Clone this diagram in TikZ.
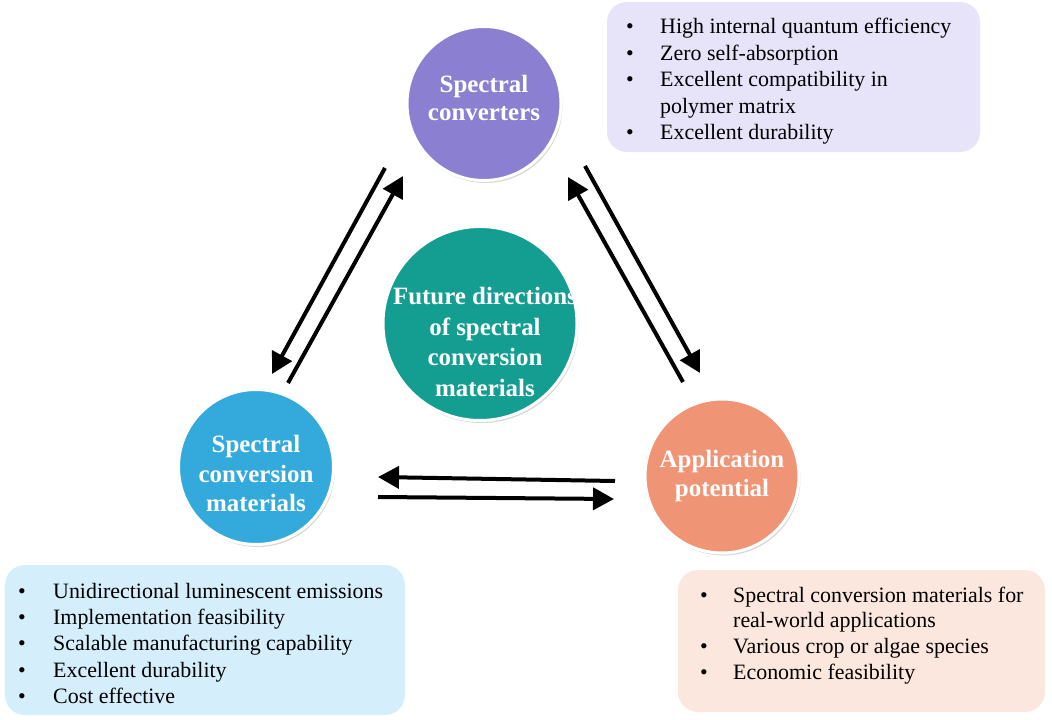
\documentclass[tikz,border=0pt]{standalone}
\usepackage{fontspec}
\setmainfont{Liberation Serif}
\newfontfamily\bodyfont{Liberation Serif}
\usetikzlibrary{arrows.meta,shadows}
\definecolor{cpurple}{RGB}{138,127,208}
\definecolor{cteal}{RGB}{20,158,146}
\definecolor{cblue}{RGB}{52,170,220}
\definecolor{corange}{RGB}{240,148,118}
\definecolor{blav}{RGB}{231,227,248}
\definecolor{bblue}{RGB}{212,238,251}
\definecolor{bpeach}{RGB}{252,231,222}
\begin{document}
\begin{tikzpicture}[x=1bp,y=-1bp,
  circ/.style={circle, inner sep=0pt, draw=white, line width=3bp,
    drop shadow={shadow xshift=1.5bp, shadow yshift=-2.5bp, opacity=0.35, fill=black!45}},
  ctext/.style={text=white, align=center, inner sep=0pt,
    font=\bodyfont\bfseries\fontsize{25}{30}\selectfont},
  infobox/.style={rounded corners=20bp, draw=none, inner sep=0pt},
  btext/.style={anchor=base west, inner sep=0pt, font=\bodyfont\fontsize{22}{26.5}\selectfont},
  arr/.style={line width=4bp, -{Triangle[length=21bp,width=22bp]}}
]
\useasboundingbox (0,0) rectangle (1052,720);

% info boxes
\node[infobox, fill=blav, minimum width=373bp, minimum height=150bp] (boxtr) at (793.5,77) {};
\node[infobox, fill=bblue, minimum width=400bp, minimum height=150bp] (boxbl) at (205,640) {};
\node[infobox, fill=bpeach, minimum width=367bp, minimum height=142bp] (boxbr) at (861.5,641) {};

\node[btext] (ttr) at (626,34) {\begin{tabular}[t]{@{}p{34bp}@{}l@{}}
\textbullet & High internal quantum efficiency\\
\textbullet & Zero self-absorption\\
\textbullet & Excellent compatibility in\\
 & polymer matrix\\
\textbullet & Excellent durability
\end{tabular}};

\node[btext] (tbl) at (18,598) {\begin{tabular}[t]{@{}p{35bp}@{}l@{}}
\textbullet & Unidirectional luminescent emissions\\
\textbullet & Implementation feasibility\\
\textbullet & Scalable manufacturing capability\\
\textbullet & Excellent durability\\
\textbullet & Cost effective
\end{tabular}};

\node[btext, font=\bodyfont\fontsize{22}{26}\selectfont] (tbr) at (700,602) {\begin{tabular}[t]{@{}p{33bp}@{}l@{}}
\textbullet & Spectral conversion materials for\\
 & real-world applications\\
\textbullet & Various crop or algae species\\
\textbullet & Economic feasibility
\end{tabular}};

% circles
\node[circ, fill=cpurple, minimum size=154bp] (sc) at (484,103.5) {};
\node[circ, fill=cteal, minimum size=194bp] (fd) at (480,323.5) {};
\node[circ, fill=cblue, minimum size=155bp] (scm) at (256,467) {};
\node[circ, fill=corange, minimum size=154bp] (ap) at (722,476) {};

\node[ctext, font=\bodyfont\bfseries\fontsize{25}{29}\selectfont] (sct) at ([yshift=5.5bp]sc) {Spectral\\converters};
\node[ctext, font=\bodyfont\bfseries\fontsize{25}{31}\selectfont] (fdt) at ([xshift=5bp,yshift=-18.5bp]fd) {Future directions\\of spectral\\conversion\\materials};
\node[ctext] (scmt) at ([yshift=-6.5bp]scm) {Spectral\\conversion\\materials};
\node[ctext] (apt) at (ap) {Application\\potential};

% arrow end points
\coordinate (l1s) at (385,168); \coordinate (l1e) at (272,374);
\coordinate (l2s) at (288,383); \coordinate (l2e) at (403,176);
\coordinate (r1s) at (683,382); \coordinate (r1e) at (568,177);
\coordinate (r2s) at (585,166); \coordinate (r2e) at (700,373);
\coordinate (b1s) at (615,481); \coordinate (b1e) at (378,477);
\coordinate (b2s) at (378,497); \coordinate (b2e) at (614,499);

\draw[arr] (l1s) -- (l1e);
\draw[arr] (l2s) -- (l2e);
\draw[arr] (r1s) -- (r1e);
\draw[arr] (r2s) -- (r2e);
\draw[arr] (b1s) -- (b1e);
\draw[arr] (b2s) -- (b2e);
\end{tikzpicture}
\end{document}
